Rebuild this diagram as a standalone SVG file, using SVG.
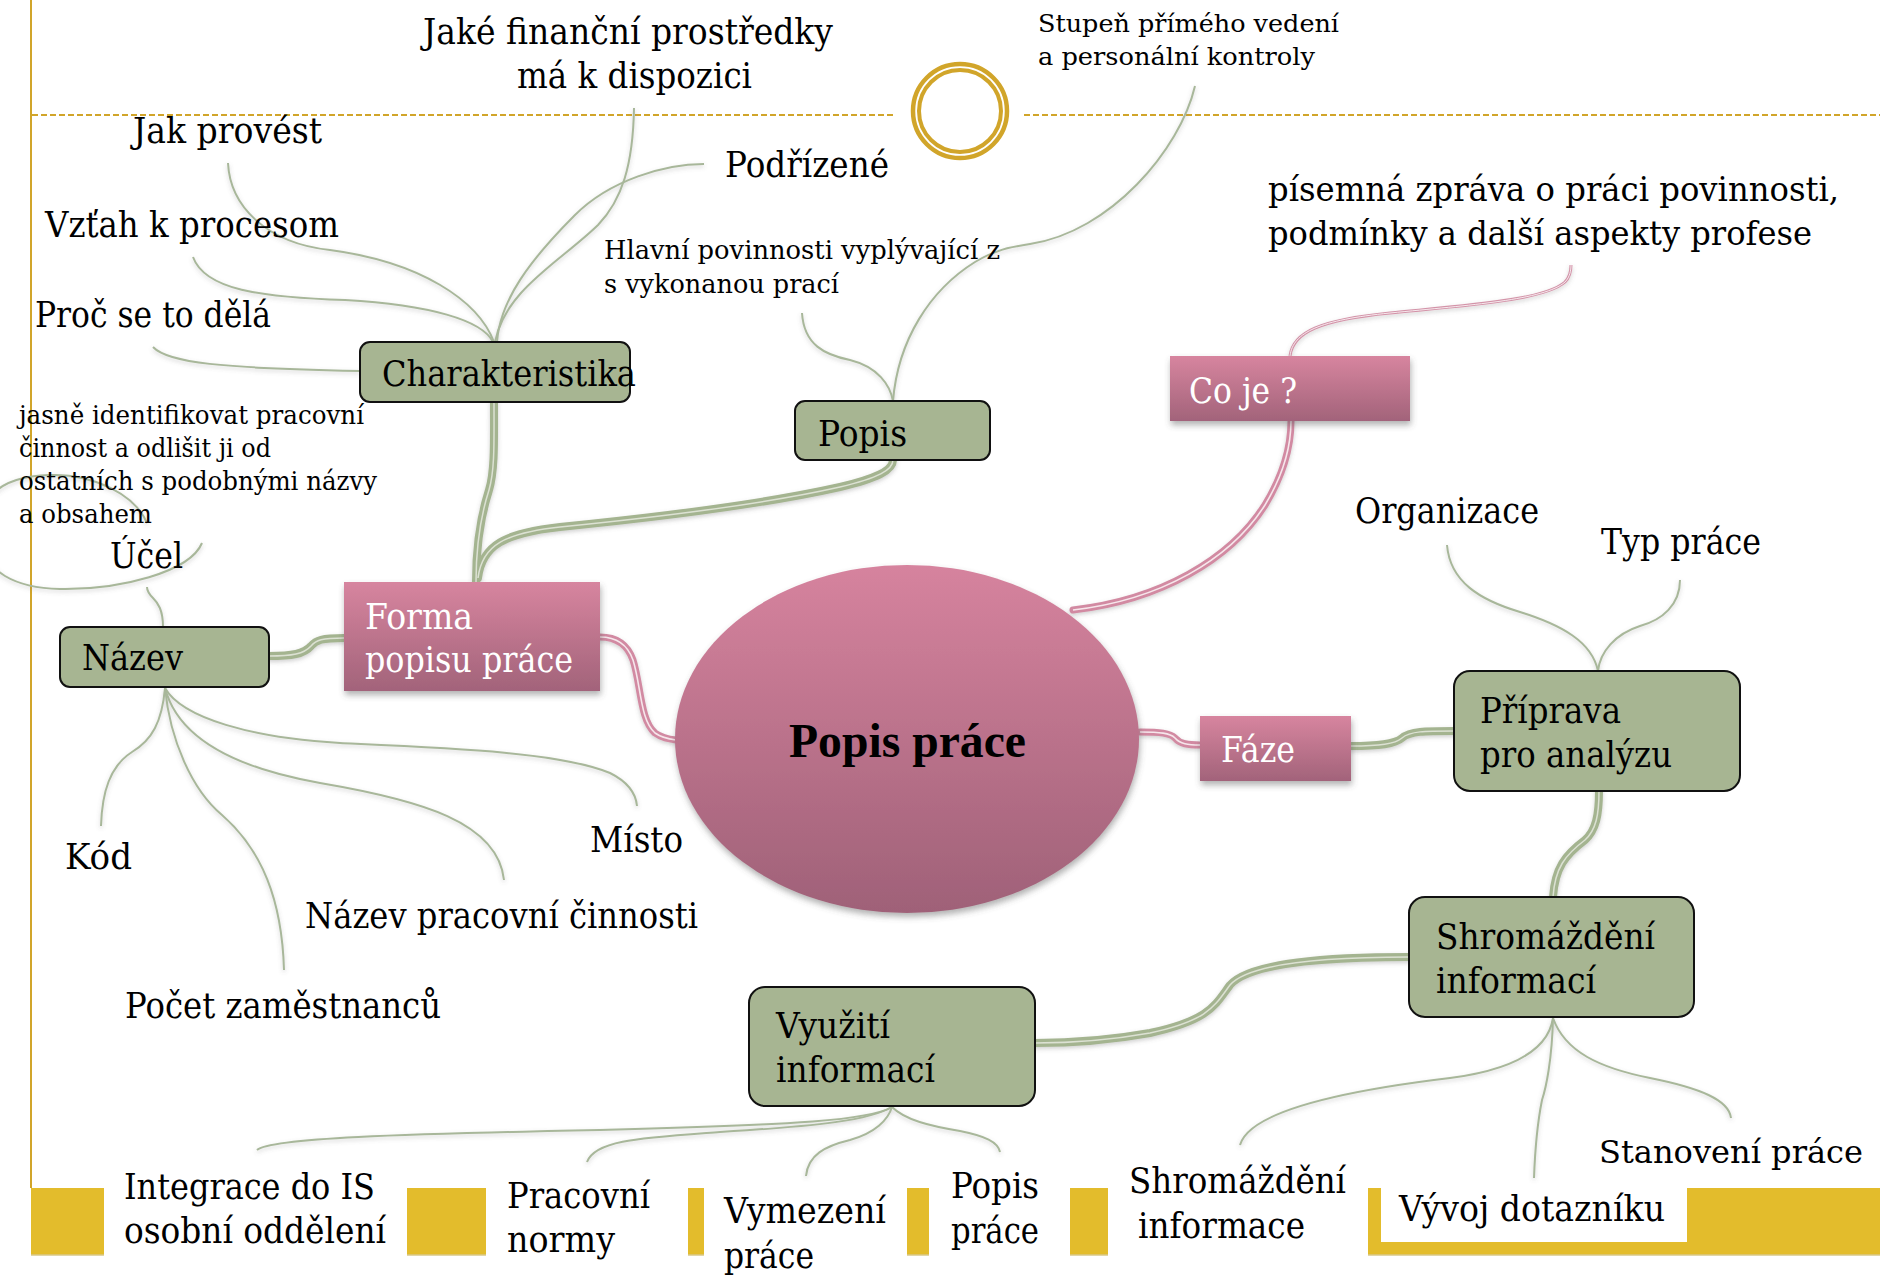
<svg xmlns="http://www.w3.org/2000/svg" width="1880" height="1275" viewBox="0 0 1880 1275">
  <defs>
    <linearGradient id="pinkFill" x1="0" y1="0" x2="0" y2="1">
      <stop offset="0" stop-color="#D7859F"/>
      <stop offset="1" stop-color="#A2637A"/>
    </linearGradient>
    <linearGradient id="coreFill" x1="0" y1="0" x2="0" y2="1">
      <stop offset="0" stop-color="#D6839E"/>
      <stop offset="1" stop-color="#9F6178"/>
    </linearGradient>
    <filter id="shade" x="-10%" y="-10%" width="125%" height="135%">
      <feDropShadow dx="1" dy="4" stdDeviation="3" flood-color="#555" flood-opacity="0.45"/>
    </filter>
    <filter id="softShade" x="-10%" y="-10%" width="120%" height="130%">
      <feDropShadow dx="0" dy="2" stdDeviation="2" flood-color="#666" flood-opacity="0.3"/>
    </filter>
    <style>
      .lbl { font-family: "DejaVu Serif", "Liberation Serif", serif; fill: #000; }
      .big { font-size: 35px; }
      .mid { font-size: 33px; }
      .edge { font-size: 32px; }
      .small { font-size: 26px; }
      .tiny { font-size: 25px; }
      .white { fill: #FFFFFF; }
      .core { font-family: "Liberation Serif", "Times New Roman", serif; font-weight: bold; font-size: 48px; fill: #000; }
      .gbox { fill: #A7B592; stroke: #111; stroke-width: 2; }
      .pbox { fill: url(#pinkFill); filter: url(#shade); }
      .gold { stroke: #D1A52A; fill: none; }
      .band { fill: #E3BC2C; }
      .bandEdge { stroke: #D8C887; stroke-width: 1.5; }
      .branch { fill: none; stroke: #A4B490; stroke-width: 8; stroke-linecap: round; }
      .branchHi { fill: none; stroke: #DCE1D3; stroke-width: 1.5; }
      .pinkBranch { fill: none; stroke: #D28AA2; stroke-width: 7; stroke-linecap: round; }
      .pinkHi { fill: none; stroke: #F6E6EB; stroke-width: 1.6; }
      .leaf { fill: none; stroke: #A8B79A; stroke-width: 2; }
      .pinkLeaf { fill: none; stroke: #D393A8; stroke-width: 3; }
      .pinkLeafHi { fill: none; stroke: #F7E9EE; stroke-width: 1; }
    </style>
  </defs>

  <rect width="1880" height="1275" fill="#FFFFFF"/>

  <!-- page decoration: margin rule, dashed header rule, double ring -->
  <g id="decoration">
    <line class="gold" x1="31" y1="0" x2="31" y2="1188" stroke-width="2"/>
    <line class="gold" x1="32" y1="115" x2="893" y2="115" stroke-width="2" stroke-dasharray="6 3"/>
    <line class="gold" x1="1024" y1="115" x2="1880" y2="115" stroke-width="2" stroke-dasharray="6 3"/>
    <circle class="gold" cx="960" cy="111" r="47" stroke-width="4.5"/>
    <circle class="gold" cx="960" cy="111" r="41" stroke-width="4"/>
  </g>

  <!-- footer band -->
  <g id="footer-band">
    <rect class="band" x="31" y="1188" width="73" height="67"/>
    <rect class="band" x="407" y="1188" width="79" height="67"/>
    <rect class="band" x="688" y="1188" width="16" height="67"/>
    <rect class="band" x="907" y="1188" width="22" height="67"/>
    <rect class="band" x="1070" y="1188" width="38" height="67"/>
    <rect class="band" x="1368" y="1188" width="512" height="67"/>
    <rect x="1381" y="1188" width="306" height="54" fill="#FFFFFF"/>
    <line class="bandEdge" x1="31" y1="1255" x2="104" y2="1255"/>
    <line class="bandEdge" x1="407" y1="1255" x2="486" y2="1255"/>
    <line class="bandEdge" x1="688" y1="1255" x2="704" y2="1255"/>
    <line class="bandEdge" x1="907" y1="1255" x2="929" y2="1255"/>
    <line class="bandEdge" x1="1070" y1="1255" x2="1108" y2="1255"/>
    <line class="bandEdge" x1="1368" y1="1255" x2="1880" y2="1255"/>
  </g>

  <!-- connectors -->
  <g id="connectors">
    <!-- thin leaf links -->
    <g filter="url(#softShade)">
      <path class="leaf" d="M634,108 C633,165 622,200 598,225 C560,262 505,290 495,342"/>
      <path class="leaf" d="M704,164 C665,164 610,180 575,215 C530,260 500,300 497,342"/>
      <path class="leaf" d="M228,163 C230,205 265,243 330,250 C420,262 478,300 494,342"/>
      <path class="leaf" d="M193,257 C205,290 260,297 345,300 C430,305 482,320 493,342"/>
      <path class="leaf" d="M153,347 C168,363 220,368 360,371"/>
      <path class="leaf" d="M893,401 C898,340 930,290 975,262 C995,250 1010,247 1030,244 C1110,232 1180,150 1195,86"/>
      <path class="leaf" d="M802,313 C804,345 825,355 850,360 C878,367 890,385 893,401"/>
      <path class="leaf" d="M163,627 C163,610 158,603 153,598 C148,593 147,590 147,587"/>
      <path class="leaf" d="M202,543 C190,572 120,590 60,589 C20,588 -20,575 -20,530 C-20,490 10,476 50,475 C95,474 135,495 147,523"/>
      <path class="leaf" d="M165,688 C162,722 152,740 132,752 C110,766 102,792 101,826"/>
      <path class="leaf" d="M165,688 C170,740 192,790 222,815 C262,850 282,900 284,970"/>
      <path class="leaf" d="M165,688 C178,738 235,768 320,783 C420,800 498,822 504,880"/>
      <path class="leaf" d="M165,688 C182,718 252,738 340,743 C450,748 560,752 610,773 C630,783 636,795 637,806"/>
      <path class="leaf" d="M1447,545 C1450,582 1480,600 1520,612 C1562,625 1592,642 1598,671"/>
      <path class="leaf" d="M1680,580 C1680,605 1662,620 1640,626 C1615,634 1600,652 1598,671"/>
      <path class="leaf" d="M1553,1018 C1548,1052 1510,1070 1450,1078 C1350,1090 1250,1110 1240,1145"/>
      <path class="leaf" d="M1553,1018 C1552,1060 1546,1088 1542,1100 C1537,1125 1535,1150 1534,1178"/>
      <path class="leaf" d="M1553,1018 C1565,1052 1600,1068 1650,1078 C1700,1088 1729,1100 1731,1118"/>
      <path class="leaf" d="M892,1107 C870,1120 800,1125 600,1130 C400,1134 270,1138 257,1150"/>
      <path class="leaf" d="M892,1107 C870,1120 820,1126 720,1132 C640,1138 595,1140 587,1162"/>
      <path class="leaf" d="M892,1107 C888,1120 875,1133 850,1140 C825,1146 808,1155 806,1176"/>
      <path class="leaf" d="M892,1107 C905,1120 930,1126 960,1131 C985,1136 998,1142 1000,1152"/>
      <path class="pinkLeaf" d="M1290,356 C1293,332 1320,320 1390,313 C1470,305 1545,300 1565,282 C1570,277 1571,270 1571,265"/>
      <path class="pinkLeafHi" d="M1290,356 C1293,332 1320,320 1390,313 C1470,305 1545,300 1565,282 C1570,277 1571,270 1571,265"/>
    </g>
    <!-- thick green branches -->
    <g filter="url(#softShade)">
      <path class="branch" d="M494,402 C494,440 495,470 489,490 C481,515 476,545 476,582"/>
      <path class="branch" d="M478,578 C482,545 505,533 560,527 C660,517 760,505 840,487 C878,478 893,470 893,460"/>
      <path class="branch" d="M344,638 C322,638 316,640 311,646 C304,654 292,656 269,656"/>
      <path class="branch" d="M1351,746 C1380,746 1395,744 1402,738 C1410,731 1425,731 1454,731"/>
      <path class="branch" d="M1599,791 C1599,815 1596,830 1585,840 C1565,855 1555,868 1553,897"/>
      <path class="branch" d="M1409,957 C1330,957 1250,962 1230,985 C1215,1005 1210,1020 1150,1033 C1100,1042 1060,1043 1035,1043"/>
    </g>
    <path class="branchHi" d="M494,402 C494,440 495,470 489,490 C481,515 476,545 476,582"/>
    <path class="branchHi" d="M478,578 C482,545 505,533 560,527 C660,517 760,505 840,487 C878,478 893,470 893,460"/>
    <path class="branchHi" d="M344,638 C322,638 316,640 311,646 C304,654 292,656 269,656"/>
    <path class="branchHi" d="M1351,746 C1380,746 1395,744 1402,738 C1410,731 1425,731 1454,731"/>
    <path class="branchHi" d="M1599,791 C1599,815 1596,830 1585,840 C1565,855 1555,868 1553,897"/>
    <path class="branchHi" d="M1409,957 C1330,957 1250,962 1230,985 C1215,1005 1210,1020 1150,1033 C1100,1042 1060,1043 1035,1043"/>
    <!-- thick pink branches from the core -->
    <g filter="url(#softShade)">
      <path class="pinkBranch" d="M600,637 C615,637 627,643 633,660 C641,685 640,720 655,733 C662,738 668,739 676,740"/>
      <path class="pinkBranch" d="M1140,732 C1160,732 1170,733 1175,738 C1180,744 1188,745 1200,745"/>
      <path class="pinkBranch" d="M1073,610 C1160,600 1230,560 1265,505 C1285,472 1291,445 1291,421"/>
    </g>
    <path class="pinkHi" d="M600,637 C615,637 627,643 633,660 C641,685 640,720 655,733 C662,738 668,739 676,740"/>
    <path class="pinkHi" d="M1140,732 C1160,732 1170,733 1175,738 C1180,744 1188,745 1200,745"/>
    <path class="pinkHi" d="M1073,610 C1160,600 1230,560 1265,505 C1285,472 1291,445 1291,421"/>
  </g>

  <!-- central topic -->
  <g id="node-popis-prace">
    <ellipse cx="907" cy="739" rx="232" ry="174" fill="url(#coreFill)" filter="url(#shade)"/>
    <text class="core" x="789" y="757" textLength="237" lengthAdjust="spacingAndGlyphs">Popis práce</text>
  </g>

  <!-- pink main branches -->
  <g id="node-forma">
    <rect class="pbox" x="344" y="582" width="256" height="109"/>
    <text class="lbl big white" x="365" y="629" textLength="108" lengthAdjust="spacingAndGlyphs">Forma</text>
    <text class="lbl big white" x="365" y="672" textLength="208" lengthAdjust="spacingAndGlyphs">popisu práce</text>
  </g>
  <g id="node-co-je">
    <rect class="pbox" x="1170" y="356" width="240" height="65"/>
    <text class="lbl big white" x="1189" y="403" textLength="108" lengthAdjust="spacingAndGlyphs">Co je ?</text>
  </g>
  <g id="node-faze">
    <rect class="pbox" x="1200" y="716" width="151" height="65"/>
    <text class="lbl big white" x="1221" y="762" textLength="74" lengthAdjust="spacingAndGlyphs">Fáze</text>
  </g>

  <!-- green sub-topics -->
  <g id="node-charakteristika">
    <rect class="gbox" x="360" y="342" width="270" height="60" rx="10"/>
    <text class="lbl big" x="382" y="386" textLength="254" lengthAdjust="spacingAndGlyphs">Charakteristika</text>
  </g>
  <g id="node-popis">
    <rect class="gbox" x="795" y="401" width="195" height="59" rx="10"/>
    <text class="lbl big" x="818" y="446" textLength="89" lengthAdjust="spacingAndGlyphs">Popis</text>
  </g>
  <g id="node-nazev">
    <rect class="gbox" x="60" y="627" width="209" height="60" rx="10"/>
    <text class="lbl big" x="82" y="670" textLength="101" lengthAdjust="spacingAndGlyphs">Název</text>
  </g>
  <g id="node-priprava">
    <rect class="gbox" x="1454" y="671" width="286" height="120" rx="16"/>
    <text class="lbl big" x="1480" y="723" textLength="141" lengthAdjust="spacingAndGlyphs">Příprava</text>
    <text class="lbl big" x="1480" y="767" textLength="192" lengthAdjust="spacingAndGlyphs">pro analýzu</text>
  </g>
  <g id="node-shromazdeni">
    <rect class="gbox" x="1409" y="897" width="285" height="120" rx="16"/>
    <text class="lbl big" x="1436" y="949" textLength="219" lengthAdjust="spacingAndGlyphs">Shromáždění</text>
    <text class="lbl big" x="1436" y="993" textLength="160" lengthAdjust="spacingAndGlyphs">informací</text>
  </g>
  <g id="node-vyuziti">
    <rect class="gbox" x="749" y="987" width="286" height="119" rx="16"/>
    <text class="lbl big" x="776" y="1038" textLength="114" lengthAdjust="spacingAndGlyphs">Využití</text>
    <text class="lbl big" x="776" y="1082" textLength="159" lengthAdjust="spacingAndGlyphs">informací</text>
  </g>

  <!-- leaf labels -->
  <g id="leaf-jake">
    <text class="lbl big" x="423" y="44" textLength="410" lengthAdjust="spacingAndGlyphs">Jaké finanční prostředky</text>
    <text class="lbl big" x="517" y="88" textLength="235" lengthAdjust="spacingAndGlyphs">má k dispozici</text>
  </g>
  <g id="leaf-stupen">
    <text class="lbl tiny" x="1038" y="32" textLength="301" lengthAdjust="spacingAndGlyphs">Stupeň přímého vedení</text>
    <text class="lbl tiny" x="1038" y="65" textLength="277" lengthAdjust="spacingAndGlyphs">a personální kontroly</text>
  </g>
  <g id="leaf-jak-provest"><text class="lbl big" x="133" y="143" textLength="189" lengthAdjust="spacingAndGlyphs">Jak provést</text></g>
  <g id="leaf-podrizene"><text class="lbl big" x="725" y="177" textLength="164" lengthAdjust="spacingAndGlyphs">Podřízené</text></g>
  <g id="leaf-vztah"><text class="lbl big" x="45" y="237" textLength="294" lengthAdjust="spacingAndGlyphs">Vzťah k procesom</text></g>
  <g id="leaf-proc"><text class="lbl big" x="35" y="327" textLength="236" lengthAdjust="spacingAndGlyphs">Proč se to dělá</text></g>
  <g id="leaf-hlavni">
    <text class="lbl small" x="604" y="259" textLength="396" lengthAdjust="spacingAndGlyphs">Hlavní povinnosti vyplývající z</text>
    <text class="lbl small" x="604" y="293" textLength="235" lengthAdjust="spacingAndGlyphs">s vykonanou prací</text>
  </g>
  <g id="leaf-pisemna">
    <text class="lbl mid" x="1268" y="201" textLength="571" lengthAdjust="spacingAndGlyphs">písemná zpráva o práci povinnosti,</text>
    <text class="lbl mid" x="1268" y="245" textLength="544" lengthAdjust="spacingAndGlyphs">podmínky a další aspekty profese</text>
  </g>
  <g id="leaf-jasne">
    <text class="lbl small" x="19" y="424" textLength="345" lengthAdjust="spacingAndGlyphs">jasně identifikovat pracovní</text>
    <text class="lbl small" x="19" y="457" textLength="252" lengthAdjust="spacingAndGlyphs">činnost a odlišit ji od</text>
    <text class="lbl small" x="19" y="490" textLength="358" lengthAdjust="spacingAndGlyphs">ostatních s podobnými názvy</text>
    <text class="lbl small" x="19" y="523" textLength="133" lengthAdjust="spacingAndGlyphs">a obsahem</text>
  </g>
  <g id="leaf-ucel"><text class="lbl big" x="110" y="568" textLength="73" lengthAdjust="spacingAndGlyphs">Účel</text></g>
  <g id="leaf-misto"><text class="lbl big" x="590" y="852" textLength="93" lengthAdjust="spacingAndGlyphs">Místo</text></g>
  <g id="leaf-kod"><text class="lbl big" x="65" y="869" textLength="67" lengthAdjust="spacingAndGlyphs">Kód</text></g>
  <g id="leaf-nazev-cinnosti"><text class="lbl big" x="305" y="928" textLength="393" lengthAdjust="spacingAndGlyphs">Název pracovní činnosti</text></g>
  <g id="leaf-pocet"><text class="lbl big" x="125" y="1018" textLength="316" lengthAdjust="spacingAndGlyphs">Počet zaměstnanců</text></g>
  <g id="leaf-organizace"><text class="lbl big" x="1355" y="523" textLength="184" lengthAdjust="spacingAndGlyphs">Organizace</text></g>
  <g id="leaf-typ"><text class="lbl big" x="1601" y="554" textLength="160" lengthAdjust="spacingAndGlyphs">Typ práce</text></g>
  <g id="leaf-stanoveni"><text class="lbl edge" x="1599" y="1163" textLength="264" lengthAdjust="spacingAndGlyphs">Stanovení práce</text></g>
  <g id="leaf-integrace">
    <text class="lbl big" x="124" y="1199" textLength="251" lengthAdjust="spacingAndGlyphs">Integrace do IS</text>
    <text class="lbl big" x="124" y="1243" textLength="262" lengthAdjust="spacingAndGlyphs">osobní oddělení</text>
  </g>
  <g id="leaf-pracovni">
    <text class="lbl big" x="507" y="1208" textLength="143" lengthAdjust="spacingAndGlyphs">Pracovní</text>
    <text class="lbl big" x="507" y="1252" textLength="108" lengthAdjust="spacingAndGlyphs">normy</text>
  </g>
  <g id="leaf-vymezeni">
    <text class="lbl big" x="724" y="1223" textLength="162" lengthAdjust="spacingAndGlyphs">Vymezení</text>
    <text class="lbl big" x="724" y="1268" textLength="90" lengthAdjust="spacingAndGlyphs">práce</text>
  </g>
  <g id="leaf-popis-prace">
    <text class="lbl big" x="951" y="1198" textLength="88" lengthAdjust="spacingAndGlyphs">Popis</text>
    <text class="lbl big" x="951" y="1243" textLength="88" lengthAdjust="spacingAndGlyphs">práce</text>
  </g>
  <g id="leaf-shromazdeni-informace">
    <text class="lbl big" x="1129" y="1193" textLength="217" lengthAdjust="spacingAndGlyphs">Shromáždění</text>
    <text class="lbl big" x="1138" y="1238" textLength="167" lengthAdjust="spacingAndGlyphs">informace</text>
  </g>
  <g id="leaf-vyvoj"><text class="lbl big" x="1399" y="1221" textLength="266" lengthAdjust="spacingAndGlyphs">Vývoj dotazníku</text></g>
</svg>
